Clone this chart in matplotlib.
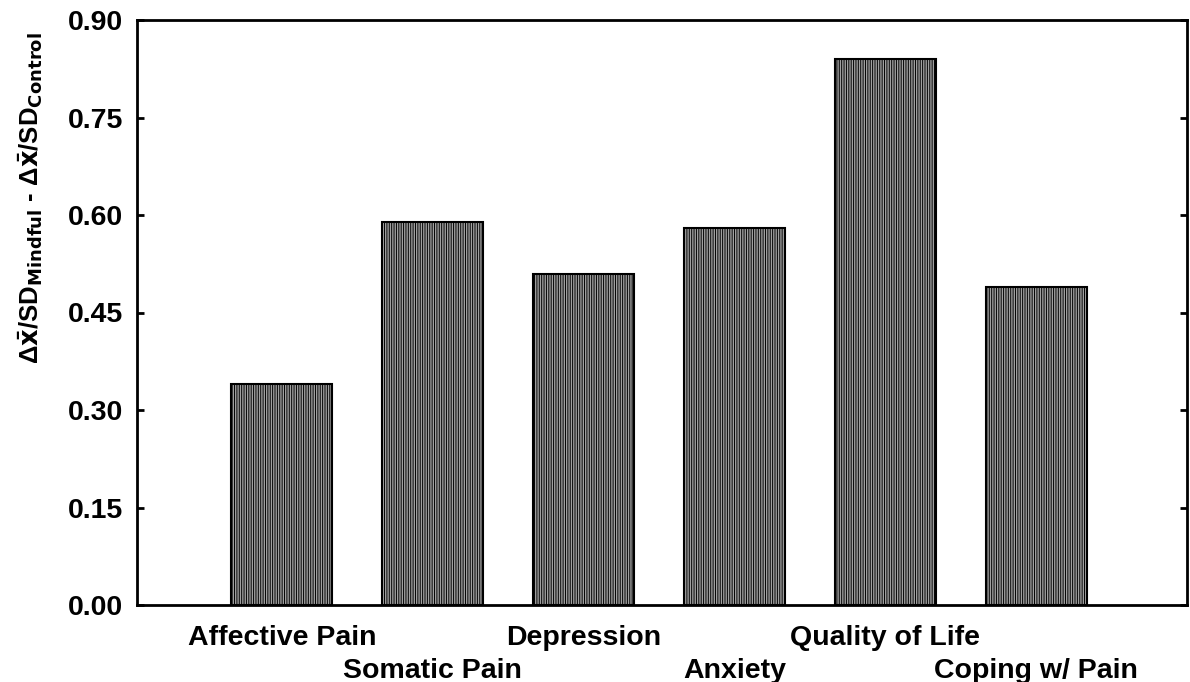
import numpy as np
import matplotlib
matplotlib.use("Agg")
import matplotlib.pyplot as plt

plt.rcParams['font.family'] = ['Liberation Sans', 'DejaVu Sans']
plt.rcParams['font.weight'] = 'bold'
plt.rcParams['mathtext.default'] = 'bf'
plt.rcParams['hatch.linewidth'] = 0.7
plt.rcParams['hatch.color'] = '#666666'

# effect size differences per outcome
outcomes = ["Affective Pain", "Somatic Pain", "Depression",
            "Anxiety", "Quality of Life", "Coping w/ Pain"]
effect = [0.34, 0.59, 0.51, 0.58, 0.84, 0.49]
yticks = [0.00, 0.15, 0.30, 0.45, 0.60, 0.75, 0.90]

fig = plt.figure(figsize=(11.9, 6.82), dpi=100)
ax = fig.add_axes([137 / 1190, 1 - 605 / 682, 1050 / 1190, 585 / 682])

x = np.arange(1, len(outcomes) + 1)
ax.bar(x, effect, width=0.67, color='#a0a0a0', edgecolor='black',
       linewidth=1.5, hatch='|||||||', zorder=2)

ax.set_xlim(0.04, 7.0)
ax.set_ylim(0, 0.90)
ax.set_yticks(yticks)
ax.set_yticklabels([f"{v:.2f}" for v in yticks], fontsize=20.5, fontweight='bold')

# category labels alternate between two rows
ax.set_xticks(x)
ax.set_xticklabels(["" for _ in outcomes])
for i, (xi, name) in enumerate(zip(x, outcomes)):
    dy = -0.057 if i % 2 == 0 else -0.113
    ax.text(xi, dy, name, transform=ax.get_xaxis_transform(), ha='center',
            va='center', fontsize=20.5, fontweight='bold')

ax.tick_params(axis='both', direction='in', width=2, length=5)
ax.tick_params(axis='y', right=True, pad=10)
for s in ax.spines.values():
    s.set_linewidth(2)

ax.set_ylabel(r"Δ$\bar{\mathbf{x}}$/SD$_{\mathbf{Mindful}}$ - Δ$\bar{\mathbf{x}}$/SD$_{\mathbf{Control}}$",
              fontsize=18.5, fontweight='bold')
ax.yaxis.set_label_coords(-0.088, 0.696)

fig.savefig("out.png", dpi=100)
